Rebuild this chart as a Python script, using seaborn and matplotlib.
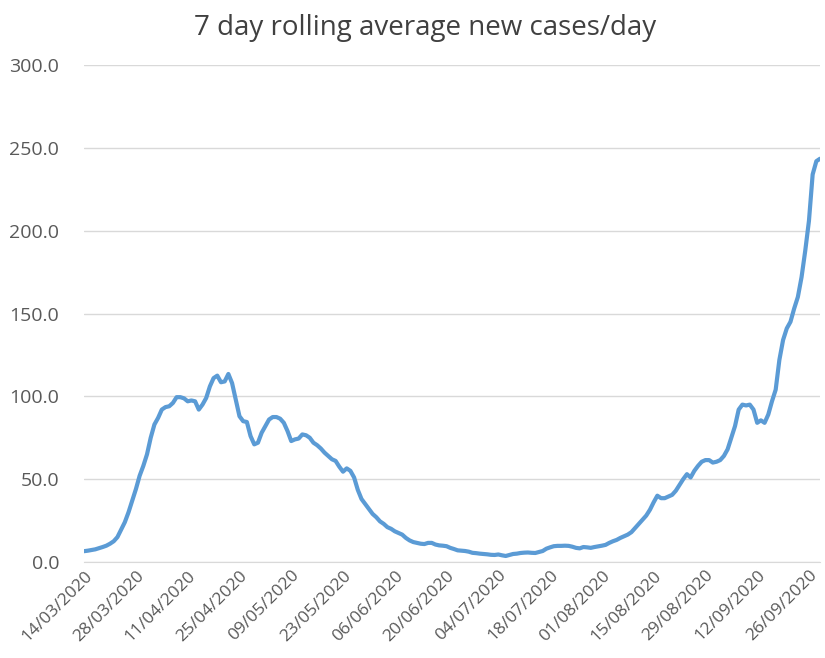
import matplotlib
matplotlib.use("Agg")
import matplotlib.pyplot as plt
import matplotlib.dates as mdates
import pandas as pd
import seaborn as sns

# 7 day rolling average, daily from 14/03/2020
start_date = "2020-03-14"
cases = [
    6.5, 6.8, 7.2, 7.6, 8.3, 9.0, 9.8, 11.0, 12.5, 15.0,
    19.5, 24, 30, 37, 44, 52, 58, 65, 75, 83,
    87, 92, 93.5, 94, 96, 99.5, 99.5, 98.8, 97, 97.5,
    97, 92, 95, 99, 106, 111, 112.5, 108.5, 109, 113.5,
    108, 98, 88, 85, 84.5, 76, 71, 72, 78, 82,
    86, 87.5, 87.5, 86.5, 84, 79, 73, 74, 74.5, 77,
    76.5, 75, 72, 70.5, 68.5, 66, 64, 62, 61, 57.5,
    54.5, 56.5, 55, 51, 43.5, 38, 35, 32, 29, 27,
    24.5, 23, 21, 20, 18.5, 17.5, 16.5, 14.5, 13, 12,
    11.5, 11, 10.8, 11.5, 11.5, 10.5, 10, 9.8, 9.5, 8.5,
    7.8, 7, 6.8, 6.6, 6.2, 5.5, 5.3, 5.0, 4.8, 4.6,
    4.3, 4.2, 4.5, 4.0, 3.6, 4.2, 4.8, 5.0, 5.4, 5.6,
    5.7, 5.5, 5.4, 6.0, 6.6, 8.0, 8.8, 9.5, 9.7, 9.7,
    9.8, 9.7, 9.2, 8.5, 8.2, 9.0, 8.8, 8.5, 9.0, 9.4,
    9.8, 10.3, 11.5, 12.5, 13.3, 14.5, 15.5, 16.5, 18, 20.5,
    23, 25.5, 28, 31.5, 36, 40, 38.5, 38.5, 39.5, 40.5,
    43, 46.5, 50, 53, 51, 55, 58, 60.5, 61.5, 61.5,
    60, 60.5, 61.5, 64, 68, 75, 82, 92, 95, 94.5,
    95, 92, 84, 85.5, 84, 89, 97, 104, 122, 134,
    141, 145, 153, 160, 172, 188, 206, 234, 242, 243.5,
]

df = pd.DataFrame({
    "date": pd.date_range(start_date, periods=len(cases), freq="D"),
    "cases": cases,
})

sns.set_style("white")
plt.rcParams["font.family"] = ["Open Sans", "DejaVu Sans"]

fig = plt.figure(figsize=(8.25, 6.58), dpi=100)
ax = fig.add_axes([0.102, 0.146, 0.892, 0.755])

sns.lineplot(data=df, x="date", y="cases", color="#5b9bd5", linewidth=3, ax=ax)

ax.set_ylim(0, 300)
ax.set_yticks(range(0, 301, 50))
ax.yaxis.set_major_formatter(matplotlib.ticker.FormatStrFormatter("%.1f"))
ax.set_xlim(df["date"].iloc[0], df["date"].iloc[-1])

tick_dates = pd.date_range(start_date, df["date"].iloc[-1], freq="14D")
ax.set_xticks(tick_dates)
ax.xaxis.set_major_formatter(mdates.DateFormatter("%d/%m/%Y"))
plt.setp(ax.get_xticklabels(), rotation=45, ha="right", rotation_mode="anchor")

ax.grid(axis="y", color="#d9d9d9", linewidth=1)
ax.set_axisbelow(True)
for side in ["top", "right", "left"]:
    ax.spines[side].set_visible(False)
ax.spines["bottom"].set_color("#d9d9d9")
ax.tick_params(axis="both", colors="#595959", length=0)
ax.tick_params(axis="y", labelsize=14, pad=18)
ax.tick_params(axis="x", labelsize=12.5, pad=4)

ax.set_xlabel("")
ax.set_ylabel("")
fig.text(0.515, 0.957, "7 day rolling average new cases/day", fontsize=20,
         color="#404040", ha="center", va="center")

fig.savefig("out.png", dpi=100)
